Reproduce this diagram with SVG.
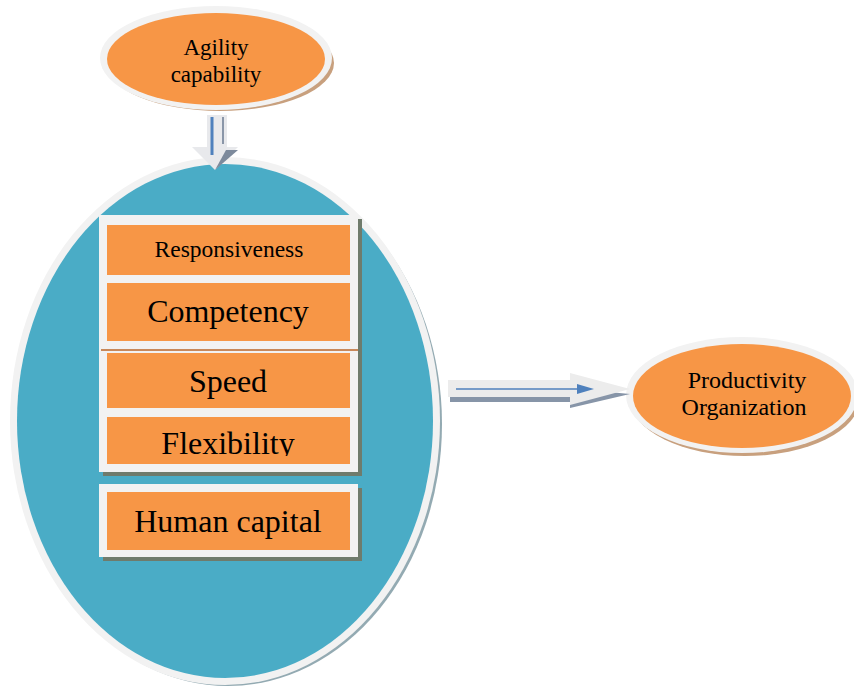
<svg xmlns="http://www.w3.org/2000/svg" width="854" height="691" viewBox="0 0 854 691">
<style>
.ring{fill:#f2f2f2}
.org{fill:#f79646}
.frame{fill:#f2f2f2}
.shadow{fill:#6f7b6c}
.t{font-family:"Liberation Serif","Times New Roman",serif;fill:#000;text-anchor:middle}
</style>
<rect width="854" height="691" fill="#fff"/>
<g id="agility">
  <ellipse cx="220" cy="63" rx="114" ry="48" fill="#c8a07e"/>
  <ellipse cx="216" cy="58" rx="116" ry="52" class="ring"/>
  <ellipse cx="216" cy="59" rx="109" ry="46" class="org"/>
  <text class="t" x="216" y="55" font-size="23">Agility</text>
  <text class="t" x="216" y="82" font-size="23">capability</text>
</g>
<g id="main">
  <ellipse cx="228" cy="424" rx="214" ry="262" fill="#93aab2"/>
  <ellipse cx="225" cy="421" rx="215" ry="264" class="ring"/>
  <ellipse cx="225" cy="421" rx="208" ry="257" fill="#4aacc6"/>
  <g id="frame1">
    <rect x="103" y="219" width="259" height="133" class="shadow"/>
    <rect x="99" y="215" width="259" height="133" class="frame"/>
  </g>
  <g id="frame2">
    <rect x="103" y="352" width="259" height="124" class="shadow"/>
    <rect x="99" y="348" width="259" height="124" class="frame"/>
    <line x1="101" y1="350" x2="358" y2="350" stroke="#c8885a" stroke-width="2"/>
  </g>
  <g id="responsiveness">
    <rect x="107" y="225" width="243" height="50" class="org"/>
    <text class="t" x="229" y="257" font-size="23.5">Responsiveness</text>
  </g>
  <g id="competency">
    <rect x="107" y="283" width="243" height="58" class="org"/>
    <text class="t" x="228" y="322" font-size="32">Competency</text>
  </g>
  <g id="speed">
    <rect x="107" y="353" width="243" height="55" class="org"/>
    <text class="t" x="228" y="392" font-size="32">Speed</text>
  </g>
  <g id="flexibility">
    <clipPath id="flexclip"><rect x="107" y="417" width="243" height="39"/></clipPath>
    <rect x="107" y="417" width="243" height="47" class="org"/>
    <text class="t" x="228" y="454" font-size="32" clip-path="url(#flexclip)">Flexibility</text>
  </g>
  <g id="human-capital">
    <rect x="103" y="488" width="259" height="73" class="shadow"/>
    <rect x="99" y="484" width="259" height="73" class="frame"/>
    <rect x="107" y="492" width="243" height="58" class="org"/>
    <text class="t" x="228" y="532" font-size="32">Human capital</text>
  </g>
</g>
<g id="productivity">
  <ellipse cx="745" cy="400" rx="114" ry="56" fill="#c8a07e"/>
  <ellipse cx="742" cy="395" rx="116" ry="58" class="ring"/>
  <ellipse cx="742" cy="396" rx="109" ry="52" class="org"/>
  <text class="t" x="747" y="388" font-size="24">Productivity</text>
  <text class="t" x="744" y="415" font-size="24">Organization</text>
</g>
<g id="connectors">
  <g id="arrow-down">
    <polygon points="207,115 227,115 227,147 238,147 215,170 192,147 207,147" fill="#e8e9ec"/>
    <polygon points="215,170 238,150 226,150" fill="#7d8a9c"/>
    <line x1="212" y1="117" x2="212" y2="155" stroke="#4f81bd" stroke-width="3"/>
    <line x1="223" y1="117" x2="223" y2="144" stroke="#8a96a8" stroke-width="2"/>
  </g>
  <g id="arrow-right">
    <polygon points="450,394 567,394 567,388 630,394 570,408 570,402 450,402" fill="#8795a8"/>
    <polygon points="448,380 570,380 570,373 630,389 570,405 570,397 448,397" fill="#ececec"/>
    <line x1="456" y1="389" x2="580" y2="389" stroke="#4f81bd" stroke-width="1.5"/>
    <polygon points="577,384 594,389 577,394" fill="#4f81bd"/>
  </g>
</g>
</svg>
